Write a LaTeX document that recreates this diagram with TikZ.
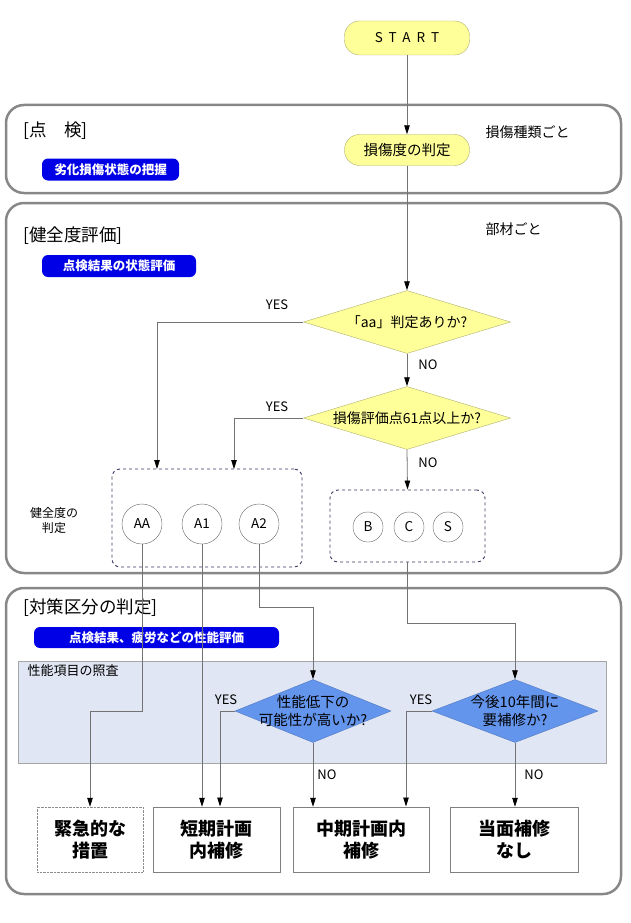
\documentclass[tikz,border=0pt]{standalone}
\usepackage{fontspec}
\setmainfont{Noto Sans CJK JP}
\usepackage{tikz}
\usetikzlibrary{shapes.geometric,arrows.meta,positioning}
\definecolor{pillyellow}{RGB}{255,255,153}
\definecolor{pillline}{RGB}{175,175,110}
\definecolor{tagblue}{RGB}{0,0,230}
\definecolor{askblue}{RGB}{100,149,237}
\definecolor{panelblue}{RGB}{224,230,243}
\definecolor{framegray}{RGB}{135,135,135}
\definecolor{grpline}{RGB}{55,55,95}
\newcommand{\fsz}[1]{\fontsize{#1}{1.25\dimexpr#1pt\relax}\selectfont}

\begin{document}
\begin{tikzpicture}[x=1pt, y=-1pt,
    section/.style={draw=framegray, line width=2.5pt, rounded corners=18pt},
    title/.style={anchor=west, font=\fsz{17.5}},
    note/.style={anchor=west, font=\fsz{14}},
    pill/.style={draw=pillline, fill=pillyellow, rounded corners=15pt, minimum width=125pt, minimum height=33pt, font=\fsz{14.5}},
    tag/.style={fill=tagblue, rounded corners=6pt, text=white, minimum height=22pt, inner xsep=0pt, font=\bfseries\fsz{12.5}},
    ask/.style={diamond, draw=pillline, fill=pillyellow, inner sep=0pt, minimum height=63pt},
    askb/.style={ask, draw=askblue!80!black, fill=askblue},
    asktext/.style={align=center, font=\fsz{14}, inner sep=0pt},
    grp/.style={draw=grpline, dashed, line width=0.9pt, rounded corners=8pt},
    grade/.style={circle, draw=black!60, inner sep=0pt, font=\fsz{13.5}},
    endbox/.style={draw=black!50, minimum height=65pt, align=center, font=\bfseries\fsz{18}},
    yn/.style={font=\fsz{13}},
    arr/.style={draw=black!55, line width=0.8pt, -{Triangle[length=9pt,width=5.5pt,black]}},
    wire/.style={draw=black!55, line width=0.8pt}
]
    \useasboundingbox (0,0) rectangle (630,923);

    % section frames
    \draw[section] (6,105) rectangle (621,193);
    \draw[section] (6,203) rectangle (621,573);
    \draw[section] (6,588) rectangle (621,894);

    % performance check panel
    \draw[draw=black!35, fill=panelblue] (18,661) rectangle (606,763);
    \node[anchor=west, font=\fsz{13}] (check) at (24,671) {性能項目の照査};

    % section titles and notes
    \node[title] (t1) at (20,131) {[点　検]};
    \node[title] (t2) at (20,236) {[健全度評価]};
    \node[title] (t3) at (20,608) {[対策区分の判定]};
    \node[note] (n1) at (482,132) {損傷種類ごと};
    \node[note] (n2) at (482,229) {部材ごと};

    % blue tags
    \node[tag, minimum width=137pt] (tag1) at (110.5,169.5) {劣化損傷状態の把握};
    \node[tag, minimum width=154pt] (tag2) at (119,266) {点検結果の状態評価};
    \node[tag, minimum width=245pt, minimum height=21pt] (tag3) at (156.5,637.5) {点検結果、疲労などの性能評価};

    % start and damage grade
    \node[pill, minimum height=34pt] (start) at (407,38) {\addfontfeature{LetterSpace=45}\fsz{13.5}START};
    \node[pill, minimum height=31pt] (judge) at (407,150) {損傷度の判定};

    % yellow questions
    \node[ask, minimum width=207pt] (q1) at (407,322) {};
    \node[asktext] (q1t) at (q1) {「aa」判定ありか?};
    \node[ask, minimum width=207pt] (q2) at (407,418) {};
    \node[asktext] (q2t) at (q2) {損傷評価点61点以上か?};

    % grade groups
    \node[grp, minimum width=190pt, minimum height=98pt] (grpA) at (207,518) {};
    \node[grp, minimum width=155pt, minimum height=72pt] (grpB) at (407.5,526) {};
    \node[grade, minimum size=40pt] (aa) at (142,524) {AA};
    \node[grade, minimum size=40pt] (a1) at (202,524) {A1};
    \node[grade, minimum size=40pt] (a2) at (259,524) {A2};
    \node[grade, minimum size=30pt] (b) at (368,527) {B};
    \node[grade, minimum size=30pt] (c) at (409,527) {C};
    \node[grade, minimum size=30pt] (s) at (448,527) {S};
    \node[align=center, font=\fsz{12}] (gradelbl) at (54,520) {健全度の\\判定};
    \coordinate (inA1) at (157,469);
    \coordinate (inA2) at (234,469);

    % blue questions
    \node[askb, minimum width=156pt] (q3) at (313,711) {};
    \node[asktext, font=\fsz{14.5}] (q3t) at (q3) {性能低下の\\可能性が高いか?};
    \node[askb, minimum width=166pt] (q4) at (515,711) {};
    \node[asktext, font=\fsz{14.5}] (q4t) at (q4) {今後10年間に\\要補修か?};

    % measures
    \node[endbox, draw=black!45, densely dotted, minimum width=106pt] (box1) at (90,839.5) {緊急的な\\措置};
    \node[endbox, minimum width=127pt] (box2) at (216.5,839.5) {短期計画\\内補修};
    \node[endbox, minimum width=136pt] (box3) at (361,839.5) {中期計画内\\補修};
    \node[endbox, minimum width=128pt] (box4) at (514,839.5) {当面補修\\なし};
    \coordinate (in2b) at (220,806.5);
    \coordinate (in3b) at (406,806.5);

    % connectors
    \draw[arr] (start) -- (judge);
    \draw[arr] (judge) -- (q1);
    \draw[arr] (q1) -- (q2);
    \draw[arr] (q1.west) -| (inA1);
    \draw[arr] (q2.west) -| (inA2);
    \draw[arr] (q2.south) -- (grpB.north);
    \draw[arr] (aa.south) -- ++(0,167) -| (box1.north);
    \draw[arr] (a1.south) -- (a1.south |- box2.north);
    \draw[arr] (a2.south) -- ++(0,63) -| (q3.north);
    \draw[arr] (grpB.south) -- ++(0,61) -| (q4.north);
    \draw[arr] (q3.west) -| (in2b);
    \draw[arr] (q3.south) -- (q3.south |- box3.north);
    \draw[arr] (q4.west) -| (in3b);
    \draw[arr] (q4.south) -- (q4.south |- box4.north);

    % yes / no labels
    \node[yn] (y1) at (277,305) {YES};
    \node[yn] (no1) at (428,365) {NO};
    \node[yn] (y2) at (277,407) {YES};
    \node[yn] (no2) at (428,463) {NO};
    \node[yn] (y3) at (226,700) {YES};
    \node[yn] (no3) at (327,775) {NO};
    \node[yn] (y4) at (421,700) {YES};
    \node[yn] (no4) at (534,775) {NO};
\end{tikzpicture}
\end{document}
